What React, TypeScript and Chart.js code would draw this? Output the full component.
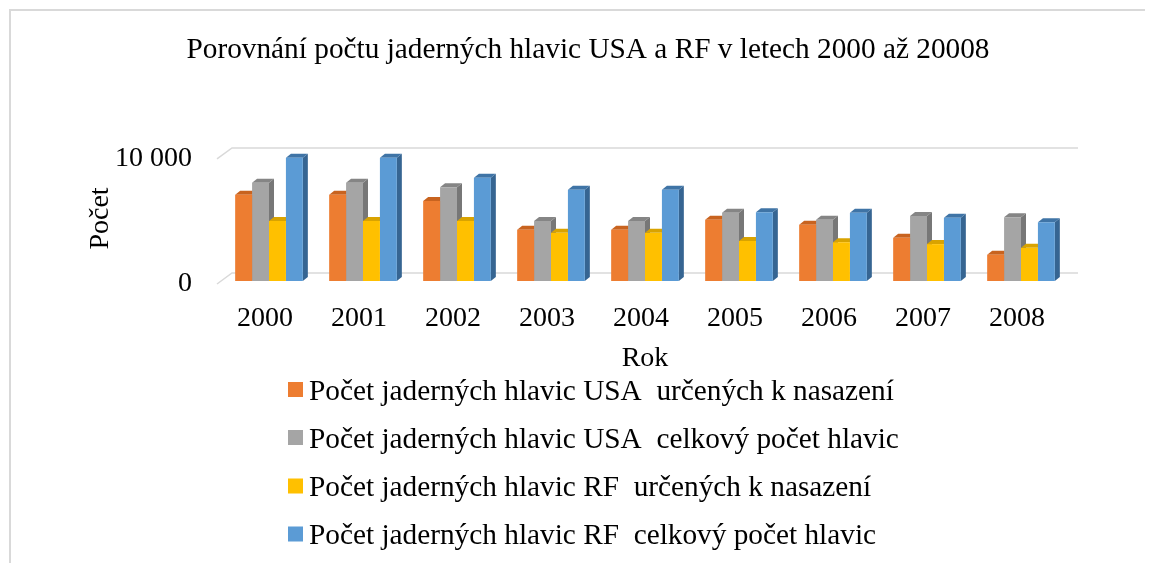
import React, { useEffect, useRef } from 'react';
import { Chart, registerables } from 'chart.js';

Chart.register(...registerables);

const years = ['2000', '2001', '2002', '2003', '2004', '2005', '2006', '2007', '2008'];
const usaDeployed = [6900, 6900, 6400, 4100, 4100, 4900, 4500, 3450, 2100];
const usaTotal = [7850, 7850, 7500, 4800, 4800, 5450, 4900, 5200, 5100];
const rfDeployed = [4800, 4800, 4800, 3850, 3850, 3200, 3100, 2950, 2650];
const rfTotal = [9850, 9850, 8250, 7300, 7300, 5500, 5450, 5050, 4700];
const seriesLabels = [
  'Počet jaderných hlavic USA  určených k nasazení',
  'Počet jaderných hlavic USA  celkový počet hlavic',
  'Počet jaderných hlavic RF  určených k nasazení',
  'Počet jaderných hlavic RF  celkový počet hlavic',
];
const yTickValues = [0, 10000];
const titleText = 'Porovnání počtu jaderných hlavic USA a RF v letech 2000 až 20008';
const yTitle = 'Počet';
const xTitle = 'Rok';

const frontColors = ['#ED7D31', '#A5A5A5', '#FFC000', '#5B9BD5'];
const topColors = ['#C8631F', '#858585', '#D9A300', '#3F74A6'];
const sideColors = ['#B0561B', '#777777', '#C49400', '#366592'];

const FONT = "'Liberation Serif', 'Times New Roman', serif";

const pageBorder = {
  id: 'pageBorder',
  beforeDraw(chart: any) {
    const ctx = chart.ctx;
    ctx.save();
    ctx.fillStyle = '#d9d9d9';
    ctx.fillRect(1, 1, chart.width, 2);
    ctx.fillRect(1, 1, 2, chart.height);
    ctx.restore();
  },
};

const wallGrid = {
  id: 'wallGrid',
  beforeDatasetsDraw(chart: any) {
    const ctx = chart.ctx;
    const y = chart.scales.y;
    const { left, right } = chart.chartArea;
    ctx.save();
    ctx.strokeStyle = '#d9d9d9';
    ctx.lineWidth = 1.5;
    yTickValues.forEach((v) => {
      const py = y.getPixelForValue(v);
      ctx.beginPath();
      ctx.moveTo(left - 5, py + 3);
      ctx.lineTo(left + 10, py - 8);
      ctx.lineTo(right + 10, py - 8);
      ctx.stroke();
    });
    ctx.restore();
  },
};

const bars3d = {
  id: 'bars3d',
  beforeDatasetsDraw(chart: any) {
    const ctx = chart.ctx;
    const dx = 5;
    const dy = 4;
    ctx.save();
    chart.data.datasets.forEach((_ds: any, i: number) => {
      const meta = chart.getDatasetMeta(i);
      meta.data.forEach((el: any) => {
        const { x, y, base, width } = el.getProps(['x', 'y', 'base', 'width'], true);
        const l = x - width / 2;
        const r = x + width / 2;
        ctx.fillStyle = sideColors[i];
        ctx.beginPath();
        ctx.moveTo(r, y);
        ctx.lineTo(r + dx, y - dy);
        ctx.lineTo(r + dx, base - dy);
        ctx.lineTo(r, base);
        ctx.closePath();
        ctx.fill();
        ctx.fillStyle = topColors[i];
        ctx.beginPath();
        ctx.moveTo(l, y);
        ctx.lineTo(l + dx, y - dy);
        ctx.lineTo(r + dx, y - dy);
        ctx.lineTo(r, y);
        ctx.closePath();
        ctx.fill();
      });
    });
    ctx.restore();
  },
};

const customLegend = {
  id: 'customLegend',
  afterDraw(chart: any) {
    const ctx = chart.ctx;
    const boxX = 280;
    const textX = 301;
    const rows = [381.5, 429.5, 478, 526];
    ctx.save();
    ctx.font = `29.3px ${FONT}`;
    ctx.textBaseline = 'alphabetic';
    ctx.textAlign = 'left';
    chart.data.datasets.forEach((ds: any, i: number) => {
      const cy = rows[i];
      ctx.fillStyle = frontColors[i];
      ctx.fillRect(boxX, cy - 7.5, 15, 15);
      ctx.fillStyle = '#000';
      ctx.fillText(ds.label, textX, cy + 10);
    });
    ctx.restore();
  },
};

function formatTick(v: number): string {
  return String(v).replace(/\B(?=(\d{3})+(?!\d))/g, ' ');
}

export default function App() {
  const ref = useRef<HTMLCanvasElement | null>(null);
  useEffect(() => {
    if (!ref.current) return;
    const seriesValues = [usaDeployed, usaTotal, rfDeployed, rfTotal];
    const chart = new Chart(ref.current, {
      type: 'bar',
      data: {
        labels: years,
        datasets: seriesValues.map((vals, i) => ({
          label: seriesLabels[i],
          data: vals,
          backgroundColor: frontColors[i],
          borderWidth: 0,
          categoryPercentage: 0.72,
          barPercentage: 1.0,
        })),
      },
      options: {
        responsive: false,
        animation: false,
        layout: { padding: { top: 0, left: 100, right: 85, bottom: 188 } },
        plugins: {
          legend: { display: false },
          tooltip: { enabled: false },
          title: {
            display: true,
            text: titleText,
            color: '#000',
            font: { family: FONT, size: 29.3, weight: 'normal' as any, lineHeight: 1.2 },
            padding: { top: 25, bottom: 87.8 },
          },
        },
        scales: {
          x: {
            grid: { display: false, drawTicks: false },
            border: { display: false },
            afterFit(scale: any) {
              scale.height = 94;
            },
            ticks: {
              color: '#000',
              font: { family: FONT, size: 28, lineHeight: 1.2 },
              padding: 21,
              labelOffset: -4,
              maxRotation: 0,
            },
            title: {
              display: true,
              text: xTitle,
              color: '#000',
              font: { family: FONT, size: 28, lineHeight: 1.2 },
              padding: { top: 0, bottom: 0 },
            },
          },
          y: {
            min: 0,
            max: 10000,
            grid: { display: false, drawTicks: false },
            border: { display: false },
            afterFit(scale: any) {
              scale.width = 114;
            },
            afterBuildTicks(scale: any) {
              scale.ticks = yTickValues.map((v) => ({ value: v }));
            },
            ticks: {
              color: '#000',
              font: { family: FONT, size: 28, lineHeight: 1.2 },
              padding: 30,
              labelOffset: 3,
              callback: (v: any) => formatTick(Number(v)),
            },
            title: {
              display: true,
              text: yTitle,
              color: '#000',
              font: { family: FONT, size: 28, lineHeight: 1.2 },
              padding: { top: -24, bottom: 0, left: 0, right: 0 },
            },
          },
        },
      },
      plugins: [pageBorder, wallGrid, bars3d, customLegend],
    });
    return () => chart.destroy();
  }, []);
  return (
    <div style={{ width: 1145, height: 555 }}>
      <canvas ref={ref} width={1145} height={555} style={{ display: 'block' }} />
    </div>
  );
}
